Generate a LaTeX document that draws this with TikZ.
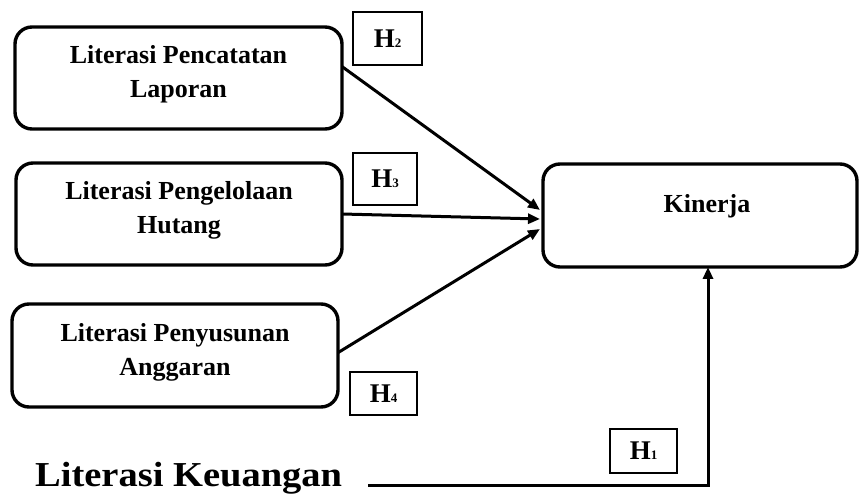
\documentclass[tikz,border=0pt]{standalone}
\usepackage{fontspec}
\setmainfont{Liberation Serif}
\usetikzlibrary{arrows.meta}
\tikzset{
  var/.style={draw, line width=3.4pt, rounded corners=17pt, inner sep=0pt, outer sep=0pt, fill=white},
  txt/.style={align=center, inner sep=0pt, font=\fontsize{26}{34}\selectfont\bfseries},
  hbox/.style={draw, line width=1.5pt, inner sep=0pt, font=\fontsize{27}{27}\selectfont\bfseries},
  conn/.style={line width=3pt, -{Triangle[length=12pt,width=10pt]}}
}
\newcommand{\hsub}[1]{H{\fontsize{13}{13}\selectfont #1}}
\begin{document}
\begin{tikzpicture}[x=1pt,y=-1pt]
\useasboundingbox[fill=white] (0,0) rectangle (859,494);
% boxes
\node[var, minimum width=327pt, minimum height=102pt] (b1) at (178.5,78) {};
\node[var, minimum width=326pt, minimum height=102pt] (b2) at (179,214) {};
\node[var, minimum width=326pt, minimum height=103pt] (b3) at (175,355.5) {};
\node[var, minimum width=314pt, minimum height=103pt] (k) at (700,215.5) {};
% texts
\node[txt] (b1t) at (178.5,74) {Literasi Pencatatan\\Laporan};
\node[txt] (b2t) at (179,210) {Literasi Pengelolaan\\Hutang};
\node[txt] (b3t) at (175,352) {Literasi Penyusunan\\Anggaran};
\node[txt] (kt) at (707,206) {Kinerja};
% H boxes
\node[hbox, minimum width=69pt, minimum height=53pt] (h2) at (387.5,38.5) {\hsub{2}};
\node[hbox, minimum width=64pt, minimum height=52pt] (h3) at (385,179) {\hsub{3}};
\node[hbox, minimum width=67pt, minimum height=43pt] (h4) at (383.5,393.5) {\hsub{4}};
\node[hbox, minimum width=67pt, minimum height=44pt] (h1) at (643.5,451) {\hsub{1}};
% Literasi Keuangan
\node[anchor=base west, inner sep=0pt, font=\fontsize{35}{35}\selectfont\bfseries] (lk) at (35,486) {\addfontfeature{FakeStretch=1.1}Literasi Keuangan};
% connectors
\draw[conn] (b1.4) -- ([shift={(-3pt,5.5pt)}]k.west);
\draw[conn] (b2.east) -- ([shift={(-3pt,-3.5pt)}]k.west);
\draw[conn] (b3.1) -- ([shift={(-3pt,-13.5pt)}]k.west);
\coordinate (c) at (708,485);
\draw[conn] ([shift={(26pt,1pt)}]lk.base east) -- (c) -- (k.south -| c);
\end{tikzpicture}
\end{document}
